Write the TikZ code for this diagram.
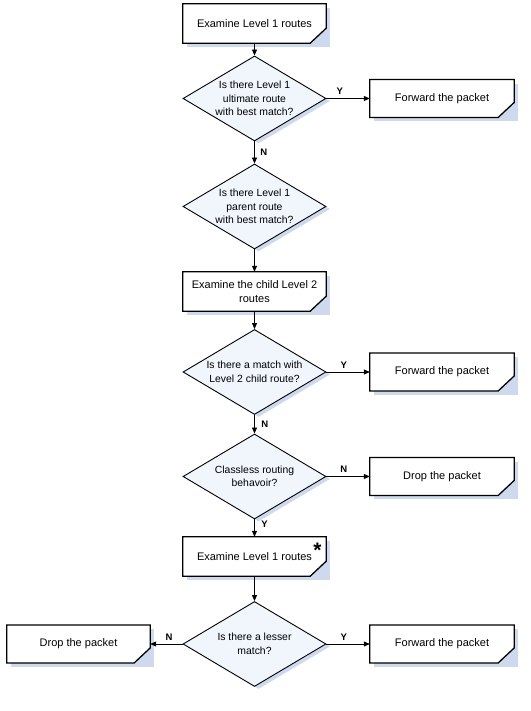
\documentclass[tikz,border=0pt]{standalone}
\usepackage{fontspec}
\setmainfont{Liberation Sans}
\usetikzlibrary{shapes.geometric,arrows.meta,shadows}
\definecolor{shad}{RGB}{206,217,238}
\definecolor{dfill}{RGB}{241,245,252}
\begin{document}
\begin{tikzpicture}[x=1pt,y=1pt,
  txt/.style={font=\fontsize{10.4}{13.5}\selectfont},
  proc/.style={font=\fontsize{11}{13.5}\selectfont, rectangle, minimum width=143pt, minimum height=39pt,
    inner sep=2pt, align=center, fill=white,
    general shadow={fill=shad, shadow xshift=4pt, shadow yshift=-4pt}},
  fold/.style={fill=shad},
  outline/.style={draw=black, line width=1.3pt, line join=miter},
  dec/.style={txt, diamond, aspect=1.68, minimum width=143pt, minimum height=85pt,
    inner sep=0pt, align=center, draw=black, line width=0.9pt, fill=dfill,
    general shadow={fill=shad, shadow xshift=4pt, shadow yshift=-2.5pt}},
  arr/.style={draw=black, line width=0.8pt, -{Triangle[length=6pt,width=5pt]}},
  lbl/.style={font=\fontsize{9.5}{10}\selectfont\bfseries, inner sep=1.5pt},
  star/.style={font=\fontsize{21}{21}\selectfont\bfseries, inner sep=0pt}
]
\useasboundingbox (0,0) rectangle (530,711);

\node[proc] (b1) at (254.5,687.5) {Examine Level 1 routes};
\node[dec]  (d1) at (254.5,612.5) {Is there Level 1\\ultimate route\\with best match?};
\node[proc, minimum width=144pt, minimum height=37.5pt] (f1) at (442,612.5) {Forward the packet};
\node[dec]  (d2) at (254.5,504.5) {Is there Level 1\\parent route\\with best match?};
\node[proc] (b2) at (254.5,419.5) {Examine the child Level 2\\routes};
\node[dec]  (d3) at (254.5,339) {Is there a match with\\Level 2 child route?};
\node[proc, minimum width=144pt, minimum height=37.5pt] (f2) at (442,339) {Forward the packet};
\node[dec]  (d4) at (254.5,234.5) {Classless routing\\behavoir?};
\node[proc, minimum width=144pt, minimum height=37.5pt] (p1) at (442,234.5) {Drop the packet};
\node[proc] (b3) at (254.5,154.5) {Examine Level 1 routes};
\node[dec]  (d5) at (254.5,67) {Is there a lesser\\match?};
\node[proc, minimum width=143pt, minimum height=37.5pt] (p2) at (78.5,67) {Drop the packet};
\node[proc, minimum width=144pt, minimum height=37.5pt] (f3) at (442,67) {Forward the packet};

\foreach \n in {b1,f1,b2,f2,p1,b3,p2,f3} {
  \fill[fold] ([yshift=15pt]\n.south east) -- ([xshift=-16pt]\n.south east) -- (\n.south east) -- cycle;
  \draw[outline] (\n.north west) -- (\n.north east) -- ([yshift=15pt]\n.south east)
    -- ([xshift=-16pt]\n.south east) -- (\n.south west) -- cycle;
}
\node[star] (ast) at (317.5,161) {*};

\draw[arr] (b1) -- (d1);
\draw[arr] (d1) -- node[lbl, pos=.31, above=2pt] {Y} (f1);
\draw[arr] (d1) -- node[lbl, pos=.5, right=4pt] {N} (d2);
\draw[arr] (d2) -- (b2);
\draw[arr] (b2) -- (d3);
\draw[arr] (d3) -- node[lbl, pos=.4, above=2pt] {Y} (f2);
\draw[arr] (d3) -- node[lbl, pos=.5, right=5pt] {N} (d4);
\draw[arr] (d4) -- node[lbl, pos=.4, above=2pt] {N} (p1);
\draw[arr] (d4) -- node[lbl, pos=.3, right=5pt] {Y} (b3);
\draw[arr] (b3) -- (d5);
\draw[arr] (d5) -- node[lbl, pos=.42, above=2pt] {N} (p2);
\draw[arr] (d5) -- node[lbl, pos=.4, above=2pt] {Y} (f3);
\end{tikzpicture}
\end{document}
